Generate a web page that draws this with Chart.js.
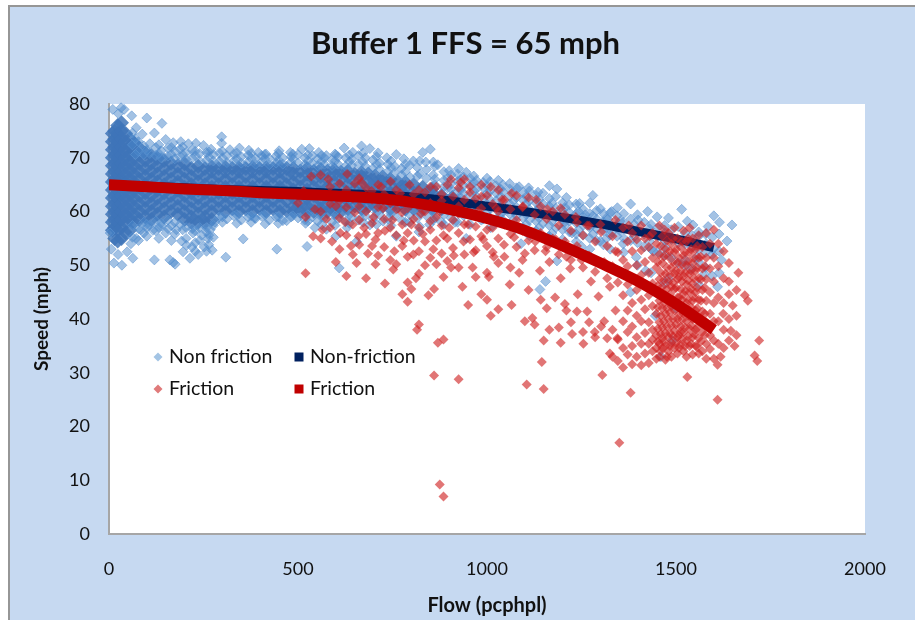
<!DOCTYPE html>
<html>
<head>
<meta charset="utf-8">
<title>Buffer 1 FFS = 65 mph</title>
<script src="https://cdn.jsdelivr.net/npm/chart.js@4/dist/chart.umd.min.js"></script>
<style>
    html, body { margin: 0; padding: 0; background: #fff; overflow: hidden; }
    #box {
        position: absolute; left: 8px; top: 5px; width: 905px; height: 613px;
        border-left: 2px solid #969696; border-top: 2px solid #969696;
        background: #c6d9f1;
    }
    #chart { display: block; filter: blur(0.5px); }
</style>
</head>
<body>
<div id="box"><canvas id="chart" width="905" height="613"></canvas></div>
<script>
// Fitted speed-flow curves
const fitFlow = [0, 100, 200, 300, 400, 500, 600, 700, 800, 900, 1000, 1100, 1200, 1300, 1400, 1500, 1600];
const nonFrictionFit = [65, 64.7, 64.4, 64.1, 63.9, 63.7, 63.4, 63.1, 62.7, 62, 61, 60, 58.9, 57.7, 56.3, 54.9, 53.3];
const frictionFit = [65, 64.6, 64.2, 63.9, 63.5, 63.2, 62.9, 62.5, 61.7, 60.4, 58.7, 56.5, 53.6, 50.4, 47, 42.8, 38];

// Solid part of the non friction cloud: flow, then the speeds stacked at that flow
const nonFrictionBand = [
    [9, [56.5, 58, 59.5, 61, 62.5, 64, 65.5, 67, 68.5, 70, 71.5, 73, 74.5]],
    [15, [55, 57, 58.5, 60, 61.5, 63, 64.5, 66, 67.5, 69, 70.5, 72, 73.5, 75]],
    [23, [54.5, 56.5, 58, 59.5, 61, 62.5, 64, 65.5, 67, 68.5, 70, 71.5, 73, 74.5, 76]],
    [33, [55, 57, 58.5, 60, 61.5, 63, 64.5, 66, 67.5, 69, 70.5, 72, 73.5, 75, 76.5]],
    [44, [56, 58, 59.5, 61, 62.5, 64, 65.5, 67, 68.5, 70, 71.5, 73, 74.5]],
    [55, [56.5, 58.5, 60, 61.5, 63, 64.5, 66, 67.5, 69, 70.5, 72, 73.5]],
    [66, [58, 59.5, 61, 62.5, 64, 65.5, 67, 68.5, 70, 71.5, 72.8]],
    [80, [58.5, 60, 61.5, 63, 64.5, 66, 67.5, 69, 70.5, 71.8]],
    [96, [59, 60.5, 62, 63.5, 65, 66.5, 68, 69.5, 70.9]],
    [112, [58.5, 60, 61.5, 63, 64.5, 66, 67.5, 69, 70.4]],
    [128, [59.5, 61, 62.5, 64, 65.5, 67, 68.5, 69.9]],
    [146, [59, 60.5, 62, 63.5, 65, 66.5, 68, 69.5]],
    [164, [60, 61.5, 63, 64.5, 66, 67.5, 69]],
    [182, [59.5, 61, 62.5, 64, 65.5, 67, 68.5]],
    [200, [58.5, 60, 61.5, 63, 64.5, 66, 67.5, 68.9]],
    [218, [58, 59, 60.5, 62, 63.5, 65, 66.5, 68]],
    [236, [58, 59.5, 61, 62.5, 64, 65.5, 67, 68.4]],
    [254, [58, 59, 60.5, 62, 63.5, 65, 66.5, 68]],
    [272, [58.5, 60, 61.5, 63, 64.5, 66, 67.5, 68.3]],
    [290, [60.5, 62, 63.5, 65, 66.5, 68]],
    [308, [60, 61.5, 63, 64.5, 66, 67.5, 68.2]],
    [326, [60.5, 62, 63.5, 65, 66.5, 68]],
    [344, [60, 61.5, 63, 64.5, 66, 67.5, 68.1]],
    [362, [60.5, 62, 63.5, 65, 66.5, 68]],
    [380, [60, 61.5, 63, 64.5, 66, 67.5, 68.2]],
    [398, [60.6, 62, 63.5, 65, 66.5, 68]],
    [416, [60, 61.5, 63, 64.5, 66, 67.5, 68.1]],
    [434, [60.5, 62, 63.5, 65, 66.5, 68]],
    [452, [60, 61.5, 63, 64.5, 66, 67.5, 68.3]],
    [470, [60.2, 62, 63.5, 65, 66.5, 68]],
    [488, [60, 61, 62.5, 64, 65.5, 67, 68]],
    [506, [60, 61.5, 63, 64.5, 66, 67.5]],
    [524, [60, 61, 62.5, 64, 65.5, 67, 68]],
    [542, [60, 61.5, 63, 64.5, 66, 67.5]],
    [560, [60, 60.5, 62, 63.5, 65, 66.5, 67.8]],
    [578, [60, 61.5, 63, 64.5, 66, 67.5]],
    [596, [60, 61, 62.5, 64, 65.5, 67, 67.7]],
    [614, [60, 61.5, 63, 64.5, 66, 67.3]],
    [632, [60.5, 62, 63.5, 65, 66.5, 67.5]],
    [650, [61, 62.5, 64, 65.5, 67]],
    [668, [60.5, 62, 63.5, 65, 66.5, 67.2]],
    [686, [61, 62.5, 64, 65.5, 67]],
    [704, [61, 62.5, 64, 65.5, 66.6]],
    [724, [61, 62.5, 64, 65.5, 66.4]],
    [744, [60.5, 62, 63.5, 65, 66]],
    [764, [61, 62.5, 64, 65.5]],
    [784, [60.5, 61.5, 63, 64.5, 65.4]],
    [806, [60.5, 62, 63.5, 65]],
    [830, [60.5, 61.5, 63, 64.5]],
    [854, [60.5, 62, 63.5, 64.2]],
    [880, [60.5, 61.5, 63]],
    [908, [60.5, 62, 62.6]]
];

// Scattered non friction readings round the band
const nonFrictionUpper = [
    [10, 79], [32, 79.3], [40, 79], [25, 78.2], [60, 77.8], [100, 77.4], [140, 76.4], [120, 74.6], [72, 75.6], [88, 74.4],
    [150, 73.4], [170, 72.8], [190, 73], [210, 72.6], [230, 72.7], [250, 72.3], [298, 73.9], [298, 72.7], [270, 71.6], [320, 71.5],
    [345, 71.8], [370, 71.4], [395, 71], [415, 70.7], [450, 71.3], [480, 71], [510, 71.6], [530, 71.7], [555, 71], [575, 70.4],
    [600, 70.5], [622, 71.8], [645, 71], [668, 72.2], [690, 71.7], [712, 70.9], [735, 70], [760, 70.6], [780, 69.8], [805, 69.4],
    [830, 71], [850, 71.6], [838, 69.2], [870, 68.7], [900, 67.6], [925, 68], [945, 67.3], [965, 66.6], [1000, 66.2], [1030, 65.8],
    [1060, 65.2], [1085, 64.6], [1110, 64.4], [1135, 63.6], [1165, 64.8], [1185, 64.2], [1210, 62.6], [1245, 61.5], [1280, 63],
    [1300, 60.5], [1330, 60], [1345, 60.7], [1380, 61.4], [1425, 60], [1450, 59], [1480, 58.8], [1515, 60.4], [1545, 57.5], [1600, 59.2],
    [1615, 58], [1648, 57.5], [1585, 57.2], [1560, 56.2], [1530, 58.2], [1400, 58.4], [1360, 58], [1320, 58.6], [1260, 59.4]
];
const nonFrictionLower = [
    [3, 56], [6, 53], [13, 50.4], [34, 50], [63, 51.3], [48, 52.5], [24, 52], [58, 54], [72, 55], [84, 56.6], [100, 57], [120, 51],
    [116, 56.5], [140, 57.3], [150, 56], [161, 51], [170, 50.5], [175, 50.2], [178, 56.6], [192, 54.5], [196, 52.5], [205, 53.7], [214, 51.3],
    [222, 56], [228, 54.2], [236, 52], [245, 55.6], [252, 53.4], [262, 55], [268, 56.6], [273, 52.8], [280, 58], [258, 57], [309, 51.5],
    [338, 57.8], [355, 54.9], [385, 58.8], [413, 57.7], [444, 53], [470, 58.3], [520, 57.8], [524, 53.5], [545, 57], [575, 56.7],
    [600, 55.4], [609, 49.5], [630, 57], [655, 54.4], [690, 57.5], [725, 58.2], [760, 55.4], [795, 58], [820, 56.2], [848, 57.6], [880, 58],
    [915, 58], [945, 55], [965, 59.6], [985, 58.4], [1010, 57], [1030, 58.8], [1055, 60.4], [1075, 56.8], [1090, 54], [1112, 55.5],
    [1140, 45.5], [1155, 47], [1165, 55], [1185, 50.8], [1205, 58], [1225, 56], [1250, 53.5], [1272, 57.4], [1300, 54.5], [1330, 56.2],
    [1360, 54], [1395, 51.5], [1420, 49], [1440, 52.6], [1460, 33], [1490, 36], [1445, 40.6], [1500, 42], [1525, 50], [1555, 51.5],
    [1580, 54], [1598, 53], [1620, 51], [1635, 54.5], [1610, 46], [1575, 48.4], [1480, 47.5], [1380, 45]
];

// Fringe of the band and tail of the cloud, same column form as the band
const nonFrictionFringe = [
    [62, [74.6, 72.4, 57.4, 55.2]], [78, [73, 71.2, 56.8, 54.6]], [92, [72.2, 70.6, 58, 56]], [108, [72.6, 70.8, 57.4]], [124, [71.9, 70.4, 58.2, 56.4]],
    [138, [71.3, 70, 57.8]], [156, [71.8, 70.3, 58.4, 56.8]], [174, [71.2, 69.8, 58, 55.8]], [188, [71.6, 70.2, 57.6]], [204, [71, 69.7, 57, 55]],
    [220, [71.4, 69.9, 56.8, 53.4]], [240, [70.8, 69.4, 57, 54.6]], [258, [71, 69.5, 56.2, 52.6]], [276, [70.6, 69.4, 57.4, 55.2]], [292, [70.9, 69.3, 59]],
    [312, [70.4, 69.1, 58.6]], [330, [70.7, 69.4, 59.2]], [350, [70.2, 69, 58.4]], [368, [70.5, 69.2, 59]], [388, [69.9, 68.8, 58.7]],
    [404, [70.4, 69.2, 59.1]], [424, [69.9, 68.7, 58.4]], [442, [70.3, 69, 59]], [460, [70, 68.8, 58.3]], [482, [70.2, 69.2, 59]],
    [500, [70.6, 69, 58.8]], [518, [70, 68.7, 58.4]], [538, [70.4, 69, 59]], [552, [69.8, 68.5, 58.2]], [570, [70, 68.8, 58.8]],
    [590, [69.6, 68.4, 58]], [606, [70.2, 68.8, 58.7]], [626, [70, 68.4, 58.2]], [642, [69.7, 68.6, 59]], [660, [70.4, 68.8, 58.4]],
    [678, [70, 68.4, 59.2]], [698, [69.6, 68, 58.6]], [716, [69, 67.8, 59.4]], [738, [68.8, 67.4, 58.6]], [756, [68.4, 67.2, 59.2]],
    [774, [68, 66.8, 58.4]], [796, [68.6, 66.4, 59.4]], [816, [68.2, 66.6, 58.8]], [840, [67.8, 66.2, 59.2]], [862, [68.4, 66, 65, 58.8]],
    [886, [67.4, 65.8, 64.6, 59.4, 57.6]], [905, [66.8, 65.2, 64.2, 58.8]], [922, [67, 65.6, 63.8, 62.4, 60, 58]], [938, [66.4, 64.8, 63.4, 61.6, 59.2]],
    [955, [66.2, 65, 63, 61.4, 59.8, 57.6]], [972, [65.8, 64.2, 62.8, 61, 59.4]], [990, [65.4, 64.4, 62.6, 60.8, 58.6]], [1008, [65.6, 63.8, 62.2, 60.6, 58.8]],
    [1024, [64.8, 63.4, 62, 60.4, 58]], [1042, [65, 63.6, 61.8, 60, 58.4]], [1060, [64.2, 62.8, 61.4, 59.6, 57.6]], [1078, [64.4, 62.6, 60.8, 59.2]],
    [1095, [63.6, 62.2, 60.6, 58.8, 57]], [1112, [63.8, 62, 60.4, 58.4]], [1130, [63, 61.6, 60, 58.2, 56.4]], [1148, [63.4, 61.4, 59.6, 57.8]],
    [1165, [62.4, 61, 59.4, 57.4, 55.4]], [1182, [62.8, 60.6, 59, 57]], [1200, [61.6, 60.2, 58.6, 56.6, 54.8]], [1218, [61.2, 59.8, 58.2, 56.2]],
    [1236, [61.4, 59.6, 57.8, 55.8, 54.4]], [1254, [60.4, 59, 57.4, 55.6]], [1272, [61.6, 59.6, 57, 55, 53]], [1290, [60.2, 58.6, 56.8, 54.6]],
    [1308, [59.6, 58, 56.4, 53.8]], [1326, [59.8, 57.6, 55.6, 53]], [1344, [59.2, 57.4, 55.4]], [1362, [59.6, 56.8, 55, 52.4]], [1380, [58.6, 56.6, 54.6]],
    [1398, [59.4, 56.4, 54.2, 50]], [1416, [58, 55.8, 53.4]], [1434, [57.6, 55.6, 53, 48.6]], [1452, [57, 55.4, 52.4]], [1470, [57.4, 54.6, 51.8, 46.6]],
    [1488, [56.6, 54.8, 51.4]], [1506, [57.2, 54.2, 50.4]], [1524, [56, 54, 51]], [1542, [55.6, 53.4, 49.4]], [1560, [55.4, 53, 50.6, 46.4]],
    [1578, [55.8, 52.4, 49.6]], [1596, [55.2, 52, 48]], [1614, [55.8, 52.6, 48.6]]
];

// Second pass on the edges, where the reference overplots more heavily
const nonFrictionEdge = [
    [70, [70.6, 73.6]], [100, [71.4, 57.6, 55.4]], [132, [70.8, 72.4, 57, 55]], [165, [70.6, 71.9, 57.4, 54.6]], [195, [70.6, 72, 56.6]], [228, [70.4, 71.2, 56.4, 52.6]],
    [264, [70.2, 71.1, 55.6, 53.8]], [300, [70, 71.2, 59, 58]], [338, [69.8, 70.9, 59.4]], [376, [69.9, 70.8, 59.2, 58]], [412, [69.8, 70.6, 59.4]], [448, [69.6, 70.8, 59, 57.8]],
    [486, [69.8, 70.7, 59.2]], [526, [69.4, 70.5, 59.4, 58.2]], [562, [69.3, 70.4, 59, 57.6]], [598, [69.4, 70.7, 59.2, 57.4]], [636, [69.3, 70.5, 59.4, 57.8]], [672, [69.2, 70.9, 59.8, 58]],
    [708, [68.8, 70.2, 59.8, 57.6]], [746, [68.2, 69.4, 59.6, 57.4]], [784, [67.4, 68.8, 60, 58]], [822, [67, 69.4, 59.6, 57.2]], [858, [66.8, 69.2, 60, 58.4]],
    [896, [66.2, 64.4, 62, 60.2]], [930, [66, 64, 62.6, 61]], [966, [65.4, 63.8, 61.8, 60.6]], [1000, [64.8, 63.4, 61.4, 59.8]], [1036, [64.2, 62.8, 61, 59.4]],
    [1070, [63.6, 62, 60, 58.4]], [1104, [62.8, 61.4, 59.4, 57.6]], [1138, [62.2, 60.8, 58.8, 57]], [1172, [61.6, 60, 58.2, 56]], [1206, [60.8, 59.2, 57.4]],
    [1242, [60, 58.4, 56.6]], [1280, [59.2, 57.8, 55.8]], [1316, [58.8, 57, 55]], [1352, [58.2, 56.4]], [1390, [57.6, 55.4]], [1430, [56.8, 54.4]], [1470, [56, 53.4]]
];

// Friction readings
const frictionPoints = [
    [875, 9.2], [885, 7], [1350, 17], [1610, 25], [860, 29.5], [925, 28.8], [1105, 27.8], [1150, 27], [1380, 26.3], [1530, 29.2],
    [885, 36.2], [870, 35.6], [820, 39], [815, 38], [1150, 36], [1145, 32], [1720, 36], [1708, 33.2], [1715, 32.2], [1690, 43.4],
    [1682, 44.4], [1665, 48.6], [1640, 47], [520, 48.5], [1610, 31.5], [1618, 33], [1645, 37.8], [1650, 42.5], [1625, 41], [1655, 35],
    [500, 61.6], [515, 63.8], [535, 66.5], [560, 66.8], [580, 66], [610, 65.2], [630, 67], [650, 65.2], [668, 65.4], [695, 63.8],
    [720, 64.6], [745, 65.6], [770, 63.4], [795, 65], [820, 64], [850, 64.6], [880, 63.2], [905, 66], [930, 65.4], [955, 63.6],
    [985, 62.8], [1010, 64.6], [1040, 62.2], [1065, 63.4], [1095, 61], [1130, 62.2], [1160, 60.4], [1195, 60.6], [1235, 59], [1265, 57.4],
    [1300, 57.6], [1340, 58.4], [1375, 57.4], [1430, 55.4], [1470, 56.6], [520, 59], [545, 60.4], [575, 58.6], [600, 61], [625, 58],
    [650, 59.8], [675, 57], [700, 59], [725, 60.6], [750, 58.4], [775, 59.8], [800, 57.6], [825, 59.6], [850, 58.2], [875, 60],
    [900, 57], [925, 59.6], [950, 57.6], [975, 60], [1000, 56.6], [1025, 60.6], [1050, 57.8], [540, 55.4], [565, 56.6], [590, 54.4],
    [612, 56], [640, 53.6], [660, 55.4], [685, 52.2], [705, 54.8], [730, 56.4], [755, 52.6], [780, 54.6], [805, 52], [830, 55.8],
    [858, 53], [885, 55.6], [912, 51.8], [938, 54.4], [965, 52.4], [990, 54.8], [1018, 51.6], [1045, 53.8], [1072, 55.2], [1100, 52.2],
    [1128, 54.4], [1155, 52.6], [1182, 54.8], [1210, 51.6], [1238, 53.6], [600, 50.6], [628, 48], [655, 50.4], [680, 47.6], [705, 50.2],
    [730, 46.6], [752, 49.2], [776, 44.6], [790, 43.2], [812, 47.6], [836, 50], [860, 45.6], [885, 47.8], [905, 49.6], [935, 46],
    [962, 49.6], [985, 44.6], [1005, 47.8], [1030, 50.4], [1060, 46.4], [1085, 48.6], [1110, 45.4], [1140, 49], [1165, 50.6], [1195, 47.6],
    [1220, 49.4], [1250, 51], [1275, 47], [800, 45.6], [845, 44.4], [950, 42.6], [1000, 43.6], [1030, 41.8], [1010, 40.6], [1120, 40.2],
    [1100, 39.6], [1065, 42.6], [1180, 44], [1210, 41.6], [1240, 44.6], [1265, 41.4], [1295, 44.2], [1165, 38], [1225, 37.2], [1195, 35.6],
    [1255, 35.4], [1285, 37.6], [1310, 39.6], [1305, 29.6], [1325, 33.6], [1345, 36.4], [1340, 41.6], [1325, 46], [1310, 50.6], [1340, 52.6]
];

// Friction cloud, column form: flow, then the speeds at that flow
const frictionColumns = [
    [560, [63, 60, 55]], [585, [64.6, 61.4, 57]], [610, [62, 58.8, 53]], [628, [64, 60.8, 55.6]], [645, [62.4, 57.6, 52]],
    [662, [66.2, 61, 58.4, 53.8]], [680, [64.4, 60, 55.8]], [696, [62.2, 57.8, 53.6]], [712, [65, 60.8, 56, 51.8]], [728, [63.2, 58.6, 53.4]],
    [744, [61.6, 57, 51]], [760, [64, 60.4, 55.6, 50.2]], [776, [62, 57.6, 53.6]], [790, [60.6, 56, 51.6, 46.8]], [806, [63.2, 58.6, 54.6]],
    [820, [61, 57, 52.6, 48.4]], [836, [63.6, 60, 54.4]], [850, [61.6, 56.6, 51.4]], [866, [64.6, 59, 54.6, 50.2]], [880, [62, 57.4, 52.2]],
    [895, [65, 60.6, 55, 50.8]], [910, [62.8, 58.4, 53.2]], [925, [64.4, 61, 56, 49.6]], [940, [66, 62.2, 57.6, 52]], [955, [64.6, 59.6, 54.8]],
    [970, [62.4, 57.2, 52.8, 47.8]], [985, [65, 60.6, 55.4]], [1000, [63, 58.8, 53.6, 48.6]], [1015, [61.4, 57, 52.4]], [1030, [64, 60, 55]],
    [1046, [62.2, 57.6, 51.6]], [1062, [60.4, 55.8, 49.6]], [1078, [63, 58.4, 53.4]], [1094, [60.8, 56.4, 51]], [1110, [62.6, 54.6]],
    [1126, [59.4, 52.8, 39]], [1142, [61, 56, 43.6]], [1158, [58.6, 53.4, 42]], [1174, [60, 55]], [1190, [57.4, 52, 38.4]],
    [1206, [59.4, 54.4, 42.8]], [1222, [56.4, 51, 39.4]], [1238, [58, 52.6, 41.4]], [1254, [55.6, 49.6, 37.6]], [1270, [57.4, 51.8, 39.4]],
    [1286, [54.4, 48.8, 36.6]], [1302, [56.2, 50.4, 38.6]], [1318, [53.6, 47.6, 36.4]], [1332, [55.4, 49.8, 38, 33]], [1346, [52.4, 46.8, 36.2, 32.2]],
    [1360, [57, 51, 48.6, 44.4, 39.6, 34.6, 31]], [1372, [54.4, 49.8, 46.4, 41.6, 37.6, 33.4]], [1384, [56, 52.6, 47.6, 43, 38.6, 35, 31.6]], [1396, [54.8, 50, 45.4, 40.6, 36.6, 33]],
    [1408, [57.4, 52.8, 48.2, 43.6, 39.6, 35.4, 31.4]], [1418, [55, 50.6, 46.4, 41.8, 37.4, 33.6]], [1428, [53.4, 48.6, 44.4, 39.4, 35.4, 31.8]], [1438, [56, 51.4, 46.6, 42.4, 38, 34, 36.2]],
    [1448, [54, 49.6, 45, 41, 37, 32.6, 34.6]], [1456, [57.4, 52, 47.4, 43.4, 39.4, 35.4, 33]], [1464, [55.4, 50.4, 46, 42, 38.4, 36.4, 34.6]], [1472, [53, 48.4, 44.4, 41, 37.4, 35, 32.4]],
    [1480, [56, 51.6, 47, 43.6, 40, 36.6, 34]], [1488, [54, 49.6, 46, 42.4, 38.8, 35.6, 33]], [1496, [57, 52.4, 48.4, 45.6, 41.6, 37.8, 34.6]], [1504, [55, 50.4, 47.4, 44, 40, 36.6, 33.6]],
    [1512, [53.4, 49, 45.6, 42.4, 38.6, 35.2, 37.6]], [1520, [56.4, 51.8, 48, 44.6, 41, 37.6, 34]], [1528, [54.4, 50, 46.4, 43, 39.6, 36, 33]], [1536, [57, 52.4, 48.4, 45, 41.6, 38.2, 35]],
    [1544, [55, 50.4, 46.6, 43.4, 40, 36.6, 33.4]], [1552, [53, 49, 45, 41.6, 38, 35]], [1560, [55.6, 51.4, 47.6, 43.6, 40, 36.4, 33.6]], [1570, [53.4, 49.4, 45.4, 41.4, 37.6, 34]],
    [1580, [56, 51.4, 47.4, 43.4, 39.4, 35.4, 32.6]], [1590, [54, 49.4, 45, 41, 37, 34.4]], [1600, [56.6, 51.4, 47, 43, 39.6, 36, 32.6]], [1612, [54, 49.8, 44, 39.6, 35.4]],
    [1626, [52.6, 47.6, 43, 38, 34.6]], [1640, [50.4, 44.6, 40, 36]], [1660, [45.4, 40.6, 37]]
];

// Densest part of the friction cloud, around 1500 pcphpl
const frictionCluster = [
    [1452, [50.6, 46.2, 42.2, 38.2, 35.8]], [1460, [53.6, 48.6, 44.6, 40.6, 37.2, 34]], [1468, [51.6, 47.2, 43, 39.6, 35.8]], [1476, [54.6, 49.6, 45.6, 42, 38.6, 33]],
    [1484, [52.6, 48.2, 44.6, 41.2, 37.4, 35]], [1492, [55, 50.6, 46.8, 43.6, 40, 36.8]], [1500, [53, 49, 45.8, 42.6, 39, 35.6]], [1508, [51.4, 47.8, 44, 40.8, 37, 34.6]],
    [1516, [54.4, 50.2, 47, 43.6, 39.8, 36.2]], [1524, [52.4, 48.6, 45.2, 41.8, 38.4, 35]], [1532, [55, 50.8, 47.2, 43.6, 40.6, 36.8]], [1540, [53, 49, 45.6, 42.2, 38.8, 35.4]],
    [1548, [51.4, 47.6, 44, 40.6, 37.2]], [1556, [53.6, 49.6, 45.8, 42, 38.4, 34.8]], [1566, [51.6, 47.4, 43.4, 39.4, 35.8]], [1576, [49.8, 45.8, 41, 37]]
];

// Text of the legend, in its reading order
const legendLabels = ['Non friction', 'Non-friction', 'Friction', 'Friction'];

const fromColumns = columns => columns.flatMap(col => col[1].map(speed => ({ x: col[0], y: speed })));
const toXY = list => list.map(p => ({ x: p[0], y: p[1] }));
const toLine = values => values.map((speed, i) => ({ x: fitFlow[i], y: speed }));

const BLUE_FILL = 'rgba(72, 134, 202, 0.5)';
const BLUE_EDGE = 'rgba(96, 152, 212, 0.55)';
const RED_FILL = 'rgba(206, 32, 32, 0.62)';
const NAVY = '#00205f';
const RED = '#c00000';

const scatterBase = { type: 'scatter', pointStyle: 'rectRot', clip: false, showLine: false, pointBorderWidth: 1 };

// Fond blanc de la zone de tracé, titre recentré sur la largeur du cadre
const plotBackground = {
    id: 'plotBackground',
    afterLayout(chart) {
        chart.titleBlock.left += 28;
        chart.titleBlock.right += 28;
    },
    beforeDraw(chart) {
        const a = chart.chartArea;
        chart.ctx.fillStyle = '#fff';
        chart.ctx.fillRect(a.left, a.top, a.right - a.left, a.bottom - a.top);
    }
};

// Légende placée dans la zone de tracé, comme sur l'original
const insideLegend = {
    id: 'insideLegend',
    afterDraw(chart) {
        const ctx = chart.ctx;
        const cols = [148, 289];
        const rows = [350, 382];
        ctx.save();
        ctx.font = '19.5px Lato';
        ctx.textBaseline = 'middle';
        legendLabels.forEach((label, i) => {
            const x = cols[i % 2];
            const y = rows[Math.floor(i / 2)];
            ctx.fillStyle = ['#a3c4e4', NAVY, '#e07a7a', RED][i];
            if (i % 2 === 0) {
                ctx.beginPath();
                ctx.moveTo(x, y - 4.5);
                ctx.lineTo(x + 4.5, y);
                ctx.lineTo(x, y + 4.5);
                ctx.lineTo(x - 4.5, y);
                ctx.closePath();
                ctx.fill();
            } else {
                ctx.fillRect(x - 4.5, y - 4.5, 9, 9);
            }
            ctx.fillStyle = '#111';
            ctx.fillText(label, x + 11, y);
        });
        ctx.restore();
    }
};

new Chart(document.getElementById('chart').getContext('2d'), {
    data: {
        datasets: [
            { ...scatterBase, label: 'Non friction band', data: fromColumns(nonFrictionBand), order: 6, pointRadius: 7.5, pointBorderWidth: 0, backgroundColor: 'rgba(62, 116, 184, 0.85)' },
            { ...scatterBase, label: 'Non friction', data: toXY(nonFrictionUpper.concat(nonFrictionLower)).concat(fromColumns(nonFrictionFringe), fromColumns(nonFrictionEdge)), order: 5, pointRadius: 5, backgroundColor: BLUE_FILL, borderColor: BLUE_EDGE },
            { type: 'line', label: 'Non-friction', data: toLine(nonFrictionFit), order: 4, borderColor: NAVY, borderWidth: 9, pointRadius: 0, tension: 0.3, borderCapStyle: 'butt' },
            { ...scatterBase, label: 'Friction', data: toXY(frictionPoints).concat(fromColumns(frictionColumns), fromColumns(frictionCluster)), order: 3, pointRadius: 5, pointBorderWidth: 0, backgroundColor: RED_FILL },
            { type: 'line', label: 'Friction', data: toLine(frictionFit), order: 2, borderColor: RED, borderWidth: 11, pointRadius: 0, tension: 0.3, borderCapStyle: 'butt' }
        ]
    },
    options: {
        responsive: false,
        animation: false,
        layout: { padding: { left: 0, right: 50, top: 0, bottom: 0 } },
        plugins: {
            legend: { display: false },
            tooltip: { enabled: false },
            title: {
                display: true,
                text: 'Buffer 1 FFS = 65 mph',
                color: '#111',
                font: { family: 'Lato', size: 31, weight: 'bold' },
                padding: { top: 18.6, bottom: 41.2 }
            }
        },
        scales: {
            x: {
                type: 'linear',
                min: 0,
                max: 2000,
                afterFit(scale) { scale.height = 86; },
                grid: { display: false, drawTicks: false },
                border: { color: '#a6a6a6', width: 2 },
                ticks: { stepSize: 500, padding: 24, color: '#111', font: { family: 'Lato', size: 18 }, maxRotation: 0, callback: value => String(value) },
                title: { display: true, text: 'Flow (pcphpl)', color: '#111', font: { family: 'Lato', size: 20, weight: 'bold' }, padding: { top: 8, bottom: 2 } }
            },
            y: {
                type: 'linear',
                min: 0,
                max: 80,
                afterFit(scale) { scale.width = 99; },
                grid: { display: false, drawTicks: false },
                border: { color: '#a6a6a6', width: 2 },
                ticks: { stepSize: 10, padding: 19, color: '#111', font: { family: 'Lato', size: 18 } },
                title: { display: true, text: 'Speed (mph)', color: '#111', font: { family: 'Lato', size: 19, weight: 'bold' }, padding: { top: 20, bottom: 0 } }
            }
        }
    },
    plugins: [plotBackground, insideLegend]
});
</script>
</body>
</html>
